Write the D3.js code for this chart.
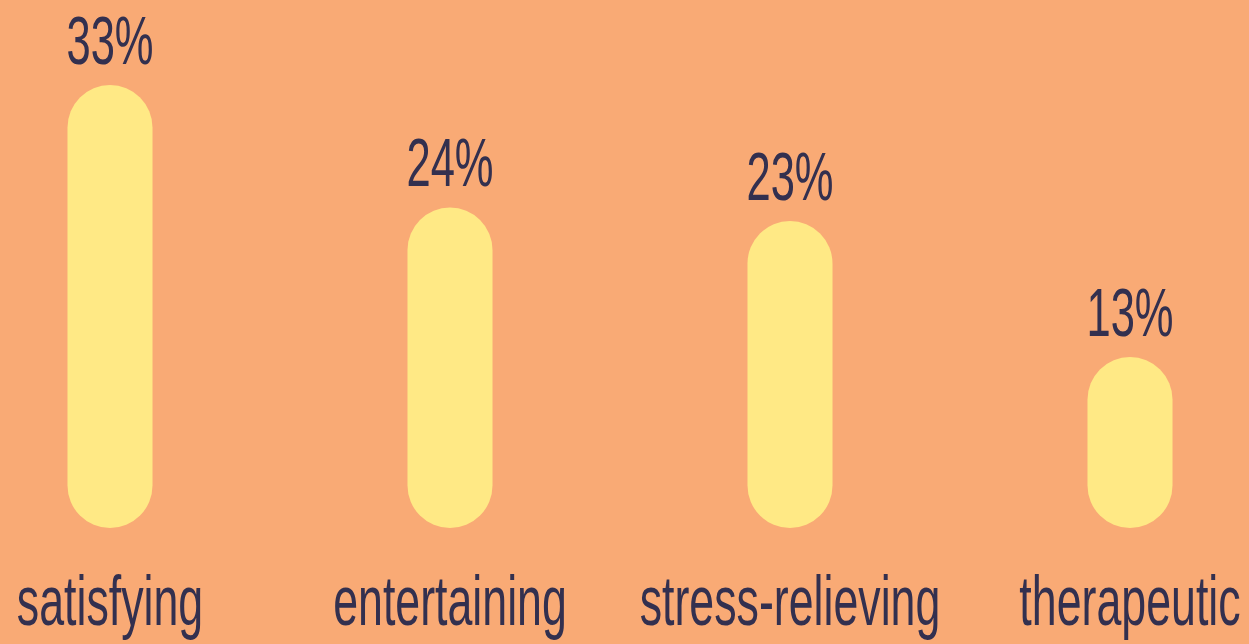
<!DOCTYPE html>
<html>
<head>
<meta charset="utf-8">
<script src="https://cdn.jsdelivr.net/npm/d3@7"></script>
<style>
  html, body { margin: 0; padding: 0; background: #F9AA75; overflow: hidden; }
  svg { display: block; }
  text { font-family: "Liberation Sans", Arial, sans-serif; fill: #33304F; }
</style>
</head>
<body>
<svg id="chart" width="1249" height="644"></svg>
<script>
// Reasons people give for enjoying the videos
const categories = ["satisfying", "entertaining", "stress-relieving", "therapeutic"];
const shares = [33, 24, 23, 13];
const valueLabels = ["33%", "24%", "23%", "13%"];

const svg = d3.select("#chart");

const barWidth = 85;
const baseY = 528;

const x = d3.scalePoint()
  .domain(categories)
  .range([110, 1130]);

const y = d3.scaleLinear()
  .domain([0, 33])
  .range([534, 85]);

const squeeze = 0.64; // narrow, condensed lettering

// bars: rounded capsules
svg.append("g")
  .selectAll("rect")
  .data(categories)
  .join("rect")
  .attr("x", d => x(d) - barWidth / 2)
  .attr("y", (d, i) => y(shares[i]))
  .attr("width", barWidth)
  .attr("height", (d, i) => baseY - y(shares[i]))
  .attr("rx", barWidth / 2)
  .attr("ry", barWidth / 2)
  .attr("fill", "#FFE985");

// value labels above bars
svg.append("g")
  .selectAll("text")
  .data(categories)
  .join("text")
  .attr("transform", (d, i) => `translate(${x(d)},${y(shares[i]) - 21}) scale(${squeeze},1)`)
  .attr("text-anchor", "middle")
  .style("font-size", "68px")
  .text((d, i) => valueLabels[i]);

// category labels
svg.append("g")
  .selectAll("text")
  .data(categories)
  .join("text")
  .attr("transform", d => `translate(${x(d)},625) scale(0.63,1)`)
  .attr("text-anchor", "middle")
  .style("font-size", "71px")
  .text(d => d);
</script>
</body>
</html>
